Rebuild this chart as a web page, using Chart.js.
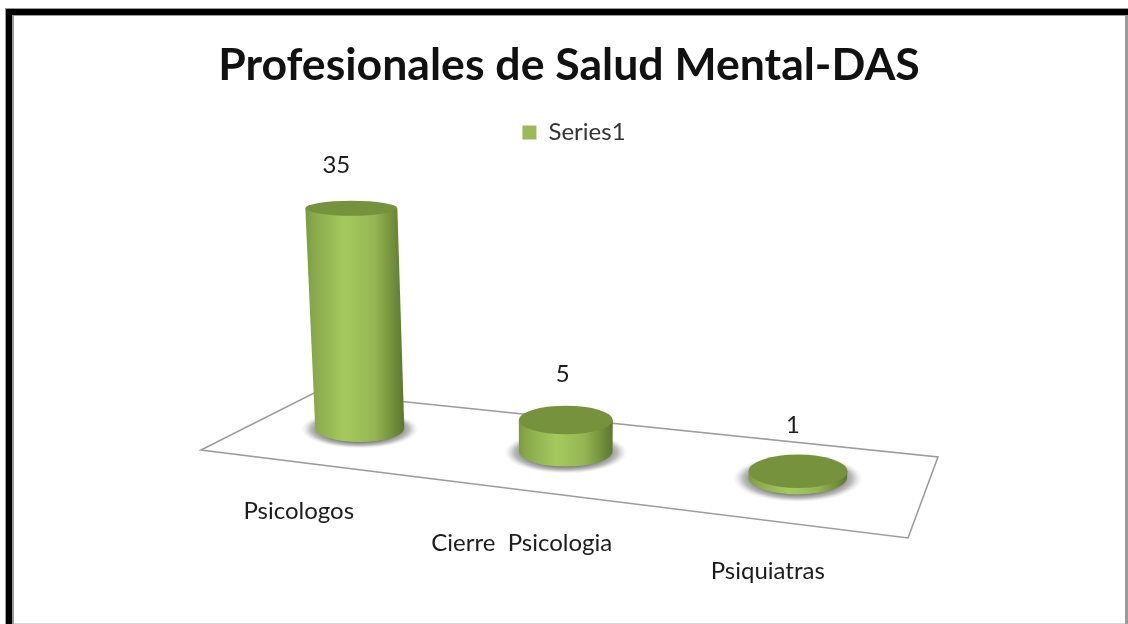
<!DOCTYPE html>
<html><head><meta charset="utf-8">
<style>html,body{margin:0;padding:0;background:#fff}canvas{display:block}</style>
<script src="https://cdn.jsdelivr.net/npm/chart.js@4/dist/chart.umd.js"></script>
</head><body>
<div style="width:1128px;height:624px;position:relative"><canvas id="c" width="1128" height="624"></canvas></div>
<script>
const categories = ['Psicologos', 'Cierre  Psicologia', 'Psiquiatras'];
const seriesName = 'Series1';
const seriesValues = [35, 5, 1];
const chartTitle = 'Profesionales de Salud Mental-DAS';

// Perspective floor: corners of the plot floor as seen on screen
const floorQuad = [[315,392.5],[938,457],[908,538],[201,450]];
const labelNudge = [[-15,-43],[-3,-46],[-5,-46]];
const tickNudge = [[-61,69],[-44,77],[-30,79]];
const TEXT = '#1c1c1c', FONT = 'Lato, Carlito, Calibri, sans-serif';

function makeHomography(q){
  const [[x0,y0],[x1,y1],[x2,y2],[x3,y3]] = q;
  const dx1=x1-x2, dx2=x3-x2, sx=x0-x1+x2-x3, dy1=y1-y2, dy2=y3-y2, sy=y0-y1+y2-y3;
  const den=dx1*dy2-dx2*dy1, g=(sx*dy2-dx2*sy)/den, h=(dx1*sy-sx*dy1)/den;
  const a=x1-x0+g*x1, b=x3-x0+h*x3, d=y1-y0+g*y1, e=y3-y0+h*y3;
  return (u,v)=>{const w=g*u+h*v+1;return {x:(a*u+b*v+x0)/w,y:(d*u+e*v+y0)/w};};
}
const H = makeHomography(floorQuad);
const MID = 0.47;

class PerspectiveCategory extends Chart.CategoryScale {
  static id = 'perspective';
  _computeLabelItems(area){
    const items = super._computeLabelItems(area);
    items.forEach((it,i)=>{
      const p = H((this.getPixelForTick(i)-this.left)/this.width, MID);
      it.options.translation = [p.x+tickNudge[i][0], p.y+tickNudge[i][1]];
      it.options.textAlign = 'center';
    });
    return items;
  }
}
Chart.register(PerspectiveCategory);

function tilt(y){ return 0.163 + (y-207)*0.00066; }

const frame = {
  id:'frame',
  beforeDraw(chart){
    const c = chart.ctx, W = chart.width, Ht = chart.height;
    c.save();
    c.fillStyle='#fff'; c.fillRect(0,0,W,Ht);
    c.fillStyle='#9a9a9a';
    c.fillRect(5,8,W-5,1); c.fillRect(5,8,1,Ht-8);
    c.fillRect(12,15,W-12,1); c.fillRect(12,15,2,Ht-15);
    c.fillRect(W-3,15,3,Ht-15);
    c.fillStyle='#000';
    c.fillRect(6,9,W-6,6); c.fillRect(6,9,6,Ht-9);
    c.fillStyle='#d8d8d8'; c.fillRect(14,Ht-1,W-17,1);
    c.restore();
  },
  afterLayout(chart){ chart.legend.left += 5; chart.legend.right += 5; }
};

const cylinders = {
  id:'cylinders',
  beforeDatasetsDraw(chart){
    const c = chart.ctx;
    c.save();
    c.strokeStyle='#9c9c9c'; c.lineWidth=1.6; c.lineJoin='miter';
    c.beginPath();
    floorQuad.forEach((p,i)=> i?c.lineTo(p[0],p[1]):c.moveTo(p[0],p[1]));
    c.closePath(); c.stroke();
    c.restore();
  },
  beforeDatasetDraw(chart,args){
    const c = chart.ctx, a = chart.chartArea, W = a.right-a.left;
    args.meta.data.forEach((el,i)=>{
      const u=(el.x-a.left)/W, w=el.width/W;
      const b=H(u,MID), l=H(u-w/2,MID), r=H(u+w/2,MID);
      const raw=(r.x-l.x)/2, rb=49.5*Math.pow(raw/48.5,.43), h=el.base-el.y;
      const by=b.y, bx=b.x;
      const tx=bx+(bx-566)*h/5383, ty=by-h, rt=rb*(1+h*0.00015);
      const ryB=rb*tilt(by), ryT=rt*tilt(ty);
      c.save();
      // ground shadow
      c.save();
      c.translate(bx,by+1); c.scale(rb*1.32,ryB*1.4);
      const sg=c.createRadialGradient(0,0,0,0,0,1);
      sg.addColorStop(0,'rgba(110,110,110,1)');sg.addColorStop(.66,'rgba(120,120,120,1)');
      sg.addColorStop(.84,'rgba(155,155,155,.65)');sg.addColorStop(1,'rgba(215,215,215,0)');
      c.fillStyle=sg;c.beginPath();c.arc(0,0,1,0,Math.PI*2);c.fill();
      c.restore();
      // side
      const x0=Math.min(bx-rb,tx-rt), x1=Math.max(bx+rb,tx+rt);
      const g=c.createLinearGradient(x0,0,x1,0);
      g.addColorStop(0,'#7a9a42');g.addColorStop(.08,'#88a94b');g.addColorStop(.4,'#a5c95e');
      g.addColorStop(.7,'#95b553');g.addColorStop(.9,'#6f8c38');g.addColorStop(1,'#5c7630');
      c.fillStyle=g;
      c.beginPath();
      c.moveTo(tx-rt,ty);c.lineTo(tx+rt,ty);c.lineTo(bx+rb,by);
      c.ellipse(bx,by,rb,ryB,0,0,Math.PI);
      c.closePath();c.fill();
      // top
      c.fillStyle='#76923c';
      c.beginPath();c.ellipse(tx,ty,rt,ryT,0,0,Math.PI*2);c.fill();
      // value label
      c.fillStyle=TEXT;c.font='24px '+FONT;c.textAlign='center';c.textBaseline='middle';
      c.fillText(String(seriesValues[i]),tx+labelNudge[i][0],ty+labelNudge[i][1]);
      c.restore();
    });
    return false;
  }
};

new Chart(document.getElementById('c'),{
  type:'bar',
  data:{labels:categories,datasets:[{label:seriesName,data:seriesValues,backgroundColor:'#9bbb59',barPercentage:.39,categoryPercentage:1}]},
  plugins:[frame,cylinders],
  options:{
    responsive:false,animation:false,
    layout:{padding:{left:10,right:0,top:30,bottom:0}},
    plugins:{
      tooltip:{enabled:false},
      title:{display:true,text:chartTitle,color:'#111',font:{family:FONT,size:44.6,weight:'bold'},padding:{top:9,bottom:28}},
      legend:{position:'top',labels:{boxWidth:14,boxHeight:14,color:'#333',font:{family:FONT,size:24},padding:0}}
    },
    scales:{
      x:{type:'perspective',grid:{display:false},border:{display:false},
         ticks:{color:TEXT,font:{family:FONT,size:24},maxRotation:0,autoSkip:false},
         afterFit(s){s.height=174;}},
      y:{display:false,min:0,max:47}
    }
  }
});
</script>
</body></html>
